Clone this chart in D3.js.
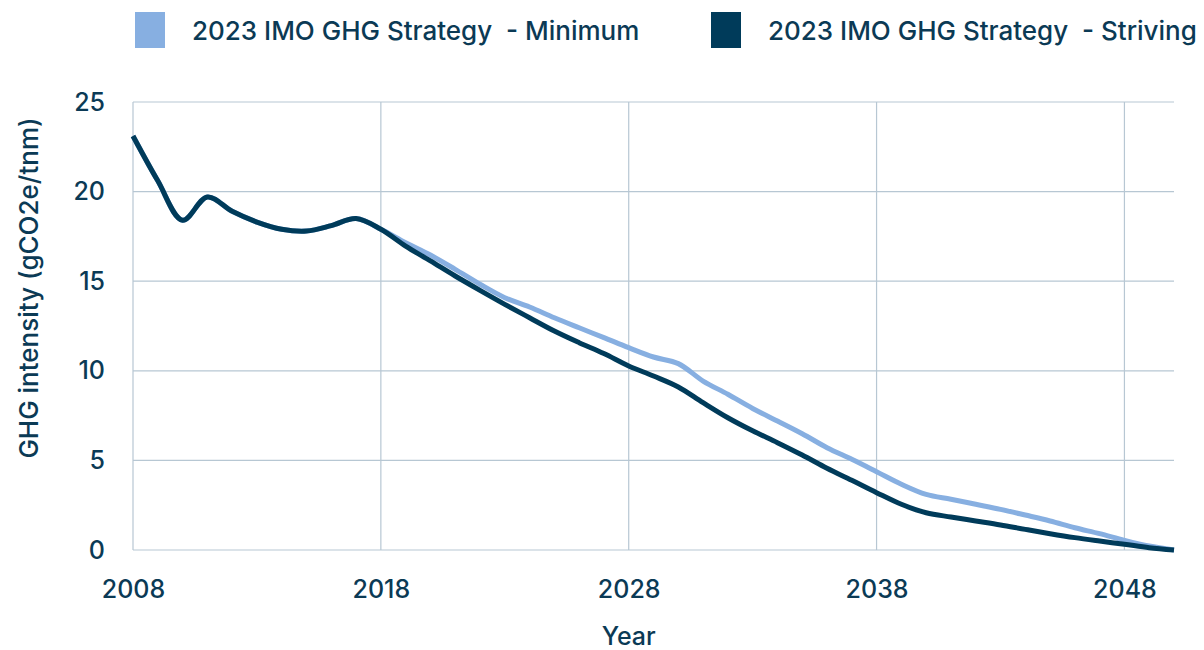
<!DOCTYPE html>
<html>
<head>
<meta charset="utf-8">
<script src="https://cdn.jsdelivr.net/npm/d3@7"></script>
<style>
  body { margin: 0; background: #fff; }
  svg { display: block; font-family: Inter, "Open Sans", sans-serif; font-weight: 500; }
</style>
</head>
<body>
<div id="chart"></div>
<script>
// GHG intensity pathways
const years = d3.range(2008, 2051);
const minimum = [
  23.1, 20.6, 18.4, 19.7, 18.9, 18.3, 17.9, 17.8, 18.1, 18.5, 17.9,
  17.15, 16.46, 15.66, 14.83, 14.08, 13.56, 12.96, 12.4, 11.85, 11.29,
  10.77, 10.4, 9.43, 8.69, 7.9, 7.2, 6.49, 5.71, 5.06, 4.37,
  3.67, 3.1, 2.83, 2.55, 2.27, 1.95, 1.62, 1.24, 0.91, 0.54, 0.22, 0
];
const striving = [
  23.1, 20.6, 18.4, 19.7, 18.9, 18.3, 17.9, 17.8, 18.1, 18.5, 17.9,
  16.96, 16.13, 15.29, 14.49, 13.71, 12.96, 12.22, 11.57, 10.96, 10.27,
  9.71, 9.1, 8.22, 7.38, 6.65, 5.99, 5.3, 4.56, 3.89, 3.2,
  2.55, 2.08, 1.84, 1.62, 1.4, 1.15, 0.91, 0.69, 0.5, 0.32, 0.13, 0
];
const seriesNames = ["2023 IMO GHG Strategy  - Minimum", "2023 IMO GHG Strategy  - Striving"];
const seriesColors = ["#87afe1", "#003b5a"];
const xTicks = [2008, 2018, 2028, 2038, 2048];
const yTicks = [0, 5, 10, 15, 20, 25];

const W = 1204, H = 650;
const margin = { top: 102, right: 30, bottom: 100, left: 133 };
const innerW = W - margin.left - margin.right;
const innerH = H - margin.top - margin.bottom;
const textColor = "#0b3a55";
const gridColor = "#b7c7d3";

const svg = d3.select("#chart").append("svg")
  .attr("width", W).attr("height", H);

const g = svg.append("g").attr("transform", `translate(${margin.left},${margin.top})`);

const x = d3.scaleLinear().domain([2008, 2050]).range([0, innerW]);
const y = d3.scaleLinear().domain([0, 25]).range([innerH, 0]);

// grid
g.append("g").selectAll("line").data(yTicks).join("line")
  .attr("x1", 0).attr("x2", innerW)
  .attr("y1", d => y(d)).attr("y2", d => y(d))
  .attr("stroke", gridColor).attr("stroke-width", 1.2);
g.append("g").selectAll("line").data(xTicks).join("line")
  .attr("x1", d => x(d)).attr("x2", d => x(d))
  .attr("y1", 0).attr("y2", innerH)
  .attr("stroke", gridColor).attr("stroke-width", 1.2);

// axes (labels only)
const yAxis = g.append("g").call(d3.axisLeft(y).tickValues(yTicks).tickSize(0).tickPadding(28));
yAxis.select(".domain").remove();
yAxis.attr("font-family", null);
yAxis.selectAll("text").attr("fill", textColor).style("font-size", "25px");

const xAxis = g.append("g").attr("transform", `translate(0,${innerH})`)
  .call(d3.axisBottom(x).tickValues(xTicks).tickFormat(d3.format("d")).tickSize(0).tickPadding(30));
xAxis.select(".domain").remove();
xAxis.attr("font-family", null);
xAxis.selectAll("text").attr("fill", textColor).style("font-size", "25px");

// lines
const line = d3.line()
  .x((d, i) => x(years[i]))
  .y(d => y(d))
  .curve(d3.curveCatmullRom.alpha(0.5));

[minimum, striving].forEach((vals, i) => {
  g.append("path").datum(vals)
    .attr("d", line)
    .attr("fill", "none")
    .attr("stroke", seriesColors[i])
    .attr("stroke-width", 5)
    .attr("stroke-linejoin", "round");
});

// axis titles
svg.append("text")
  .attr("x", margin.left + x(2028)).attr("y", 645)
  .attr("text-anchor", "middle")
  .attr("fill", textColor).style("font-size", "25px")
  .text("Year");
svg.append("text")
  .attr("transform", `translate(38,288) rotate(-90)`)
  .attr("text-anchor", "middle")
  .attr("fill", textColor).style("font-size", "26px")
  .text("GHG intensity (gCO2e/tnm)");

// legend
const legendX = [135, 711];
const legend = svg.append("g");
seriesNames.forEach((name, i) => {
  legend.append("rect")
    .attr("x", legendX[i]).attr("y", 12)
    .attr("width", 30).attr("height", 36)
    .attr("fill", seriesColors[i]);
  legend.append("text")
    .attr("x", legendX[i] + 57).attr("y", 40)
    .attr("fill", textColor).style("font-size", "26px")
    .style("white-space", "pre")
    .text(name);
});
</script>
</body>
</html>
